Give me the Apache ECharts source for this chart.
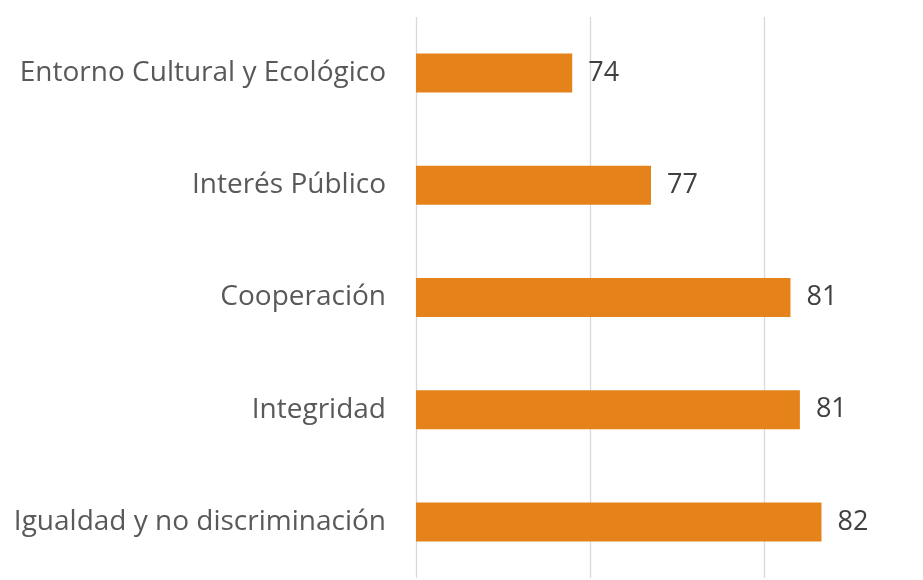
<!DOCTYPE html>
<html>
<head>
<meta charset="utf-8">
<script src="https://cdn.jsdelivr.net/npm/echarts@6/dist/echarts.min.js"></script>
<style>
  html, body { margin: 0; padding: 0; background: #fff; }
  #chart { width: 923px; height: 580px; }
</style>
</head>
<body>
<div id="chart"></div>
<script>
// top to bottom
const categories = [
    'Entorno Cultural y Ecológico',
    'Interés Público',
    'Cooperación',
    'Integridad',
    'Igualdad y no discriminación'
];
const values = [74.48, 76.74, 80.74, 81.01, 81.63];

const myChart = echarts.init(document.getElementById('chart'));
myChart.setOption({
    animation: false,
    grid: {
        left: 416,
        top: 17,
        width: 523,
        bottom: 2,
        containLabel: false,
        outerBoundsMode: 'none'
    },
    xAxis: {
        type: 'value',
        min: 70,
        max: 85,
        interval: 5,
        axisLabel: { show: false },
        axisLine: { show: false },
        axisTick: { show: false },
        splitLine: { show: true, lineStyle: { color: '#d9d9d9', width: 1.3 } }
    },
    yAxis: {
        type: 'category',
        data: categories,
        inverse: true,
        axisLine: { show: false },
        axisTick: { show: false },
        axisLabel: {
            color: '#595959',
            fontFamily: 'Open Sans',
            fontSize: 28,
            margin: 30
        }
    },
    series: [
        {
            type: 'bar',
            data: values,
            barWidth: 39,
            itemStyle: { color: '#e6821a' },
            label: {
                show: true,
                position: 'right',
                distance: 16,
                color: '#404040',
                fontFamily: 'Open Sans',
                fontSize: 27,
                formatter: (p) => Math.round(p.value)
            }
        }
    ]
});
</script>
</body>
</html>
